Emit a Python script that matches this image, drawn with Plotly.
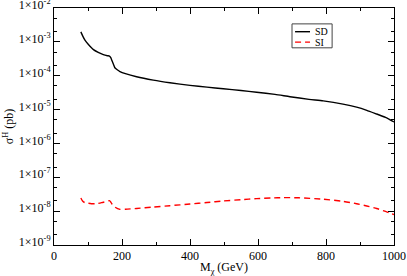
import plotly.graph_objects as go

# SD curve (mass in GeV, cross section in pb)
sd_mass = [79, 85, 91, 100, 116, 130, 145, 157, 163, 167, 170, 175, 179, 186, 194, 210, 243, 292, 341, 400, 450, 498, 550, 596, 650, 694, 750, 792, 850, 890, 920, 949, 975, 1000]
sd_sigma = [1.97e-3, 1.45e-3, 1.12e-3, 8.6e-4, 5.9e-4, 4.9e-4, 4.2e-4, 3.9e-4, 3.8e-4, 3.45e-4, 2.85e-4, 2.15e-4, 1.72e-4, 1.5e-4, 1.33e-4, 1.15e-4, 9.3e-5, 7.4e-5, 6.2e-5, 5.2e-5, 4.6e-5, 4.1e-5, 3.65e-5, 3.25e-5, 2.8e-5, 2.4e-5, 2.0e-5, 1.8e-5, 1.45e-5, 1.18e-5, 9.5e-6, 7.4e-6, 5.9e-6, 4.3e-6]

# SI curve
si_mass = [79, 84, 90, 96, 110, 125, 140, 155, 163, 167, 170, 174, 180, 194, 210, 243, 292, 341, 400, 450, 498, 550, 596, 640, 674, 720, 792, 850, 890, 920, 949, 975, 1000]
si_sigma = [2.45e-8, 2.0e-8, 1.8e-8, 1.74e-8, 1.66e-8, 1.66e-8, 1.78e-8, 1.95e-8, 2.04e-8, 1.85e-8, 1.65e-8, 1.48e-8, 1.3e-8, 1.13e-8, 1.14e-8, 1.2e-8, 1.32e-8, 1.45e-8, 1.62e-8, 1.8e-8, 2.0e-8, 2.18e-8, 2.34e-8, 2.45e-8, 2.5e-8, 2.48e-8, 2.25e-8, 1.95e-8, 1.66e-8, 1.42e-8, 1.2e-8, 9.8e-9, 7.9e-9]

y_tickvals = [1e-9, 1e-8, 1e-7, 1e-6, 1e-5, 1e-4, 1e-3, 1e-2]
y_ticktext = ["1×10<sup>-9</sup>", "1×10<sup>-8</sup>", "1×10<sup>-7</sup>", "1×10<sup>-6</sup>",
              "1×10<sup>-5</sup>", "1×10<sup>-4</sup>", "1×10<sup>-3</sup>", "1×10<sup>-2</sup>"]
x_tickvals = [0, 200, 400, 600, 800, 1000]

FONT = "Liberation Serif"

series = [
    dict(name="SD", x=sd_mass, y=sd_sigma, color="black", dash="solid"),
    dict(name="SI", x=si_mass, y=si_sigma, color="#ff0000", dash="6px,4px"),
]

fig = go.Figure()
for s in series:
    fig.add_trace(go.Scatter(x=s["x"], y=s["y"], mode="lines", name=s["name"], showlegend=False,
                             line=dict(color=s["color"], width=1.4, dash=s["dash"],
                                       shape="spline", smoothing=0.6)))

# hand-drawn legend box (Grace style)
fig.add_shape(type="rect", xref="paper", yref="paper", x0=0.700, x1=0.818, y0=0.832, y1=0.933,
              line=dict(color="#444444", width=1), fillcolor="white", layer="above")
for i, s in enumerate(series):
    yy = 0.900 - i * 0.044
    fig.add_shape(type="line", xref="paper", yref="paper", x0=0.709, x1=0.753, y0=yy, y1=yy,
                  line=dict(color=s["color"], width=1.4, dash=s["dash"]), layer="above")
    fig.add_annotation(xref="paper", yref="paper", x=0.762, y=yy, text=s["name"], showarrow=False,
                       xanchor="left", yanchor="middle", font=dict(size=10, family=FONT))

fig.update_layout(
    width=407, height=276,
    margin=dict(l=54, r=13, t=8, b=31, autoexpand=False),
    paper_bgcolor="white", plot_bgcolor="white",
    font=dict(family=FONT, size=12, color="black"),
    showlegend=False,
)
fig.update_xaxes(
    range=[0, 1000], tickvals=x_tickvals, ticks="inside", ticklen=6, tickcolor="black",
    minor=dict(dtick=100, ticks="inside", ticklen=3, tickcolor="black", showgrid=False),
    showline=True, linecolor="black", linewidth=1, mirror="allticks",
    showgrid=False, zeroline=False, tickfont=dict(size=12, family=FONT),
    ticklabeloverflow="allow",
    title=dict(text="M<sub>χ</sub> (GeV)", font=dict(size=12, family=FONT), standoff=0),
)
fig.update_yaxes(
    type="log", range=[-9, -2], tickvals=y_tickvals, ticktext=y_ticktext,
    ticks="inside", ticklen=6, tickcolor="black", ticklabelshift=-3,
    ticklabeloverflow="allow",
    minor=dict(ticks="inside", ticklen=3, tickcolor="black", showgrid=False),
    showline=True, linecolor="black", linewidth=1, mirror="allticks",
    showgrid=False, zeroline=False, tickfont=dict(size=12, family=FONT),
    title=dict(text="σ<sup>H</sup> (pb)", font=dict(size=12, family=FONT), standoff=2),
)

fig.write_html("out.html", config={"displayModeBar": False},
               post_script="document.body.style.margin='0';")
